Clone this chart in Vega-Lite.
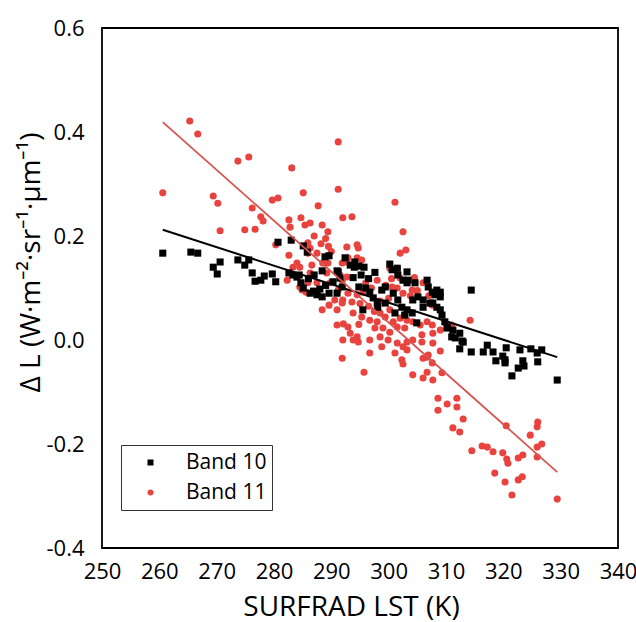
{
  "$schema": "https://vega.github.io/schema/vega-lite/v6.json",
  "autosize": "none",
  "width": 516,
  "height": 520,
  "padding": {"left": 102, "top": 28, "right": 18, "bottom": 74},
  "background": "white",
  "config": {
    "font": "Open Sans",
    "view": {"stroke": "black", "strokeWidth": 1.8},
    "axis": {"domain": false, "ticks": false, "grid": false, "labelFont": "Open Sans", "titleFont": "Open Sans", "labelColor": "black", "titleColor": "black", "labelFontSize": 22, "titleFontWeight": "normal", "labelFlush": false}
  },
  "datasets": {
    "pts": [
      {"band":"Band 11","lst":260.6,"dl":0.283},{"band":"Band 11","lst":265.3,"dl":0.421},{"band":"Band 11","lst":266.7,"dl":0.396},{"band":"Band 11","lst":269.4,"dl":0.277},{"band":"Band 11","lst":270.2,"dl":0.263},{"band":"Band 11","lst":270.6,"dl":0.210},{"band":"Band 11","lst":273.7,"dl":0.344},{"band":"Band 11","lst":275.6,"dl":0.352},{"band":"Band 11","lst":276.2,"dl":0.254},{"band":"Band 11","lst":277.7,"dl":0.237},{"band":"Band 11","lst":278.1,"dl":0.229},{"band":"Band 11","lst":274.9,"dl":0.212},{"band":"Band 11","lst":276.7,"dl":0.213},{"band":"Band 11","lst":279.7,"dl":0.269},{"band":"Band 11","lst":280.7,"dl":0.273},{"band":"Band 11","lst":280.3,"dl":0.183},{"band":"Band 11","lst":282.6,"dl":0.231},{"band":"Band 11","lst":282.8,"dl":0.217},{"band":"Band 11","lst":283.1,"dl":0.331},{"band":"Band 11","lst":285.1,"dl":0.283},{"band":"Band 11","lst":284.7,"dl":0.235},{"band":"Band 11","lst":285.4,"dl":0.221},{"band":"Band 11","lst":286.3,"dl":0.225},{"band":"Band 11","lst":287.7,"dl":0.258},{"band":"Band 11","lst":288.4,"dl":0.221},{"band":"Band 11","lst":289.4,"dl":0.208},{"band":"Band 11","lst":291.2,"dl":0.381},{"band":"Band 11","lst":291.2,"dl":0.290},{"band":"Band 11","lst":292.0,"dl":0.235},{"band":"Band 11","lst":292.7,"dl":0.179},{"band":"Band 11","lst":282.6,"dl":0.163},{"band":"Band 11","lst":283.3,"dl":0.140},{"band":"Band 11","lst":284.0,"dl":0.148},{"band":"Band 11","lst":284.5,"dl":0.140},{"band":"Band 11","lst":285.9,"dl":0.187},{"band":"Band 11","lst":286.3,"dl":0.177},{"band":"Band 11","lst":285.9,"dl":0.167},{"band":"Band 11","lst":286.6,"dl":0.144},{"band":"Band 11","lst":287.5,"dl":0.167},{"band":"Band 11","lst":288.5,"dl":0.148},{"band":"Band 11","lst":282.3,"dl":0.115},{"band":"Band 11","lst":284.9,"dl":0.096},{"band":"Band 11","lst":285.9,"dl":0.110},{"band":"Band 11","lst":288.4,"dl":0.058},{"band":"Band 11","lst":289.6,"dl":0.067},{"band":"Band 11","lst":291.0,"dl":0.058},{"band":"Band 11","lst":291.0,"dl":0.029},{"band":"Band 11","lst":292.0,"dl":0.077},{"band":"Band 11","lst":292.7,"dl":0.150},{"band":"Band 11","lst":292.0,"dl":0.000},{"band":"Band 11","lst":291.9,"dl":-0.035},{"band":"Band 11","lst":301.1,"dl":0.265},{"band":"Band 11","lst":293.6,"dl":0.237},{"band":"Band 11","lst":302.5,"dl":0.208},{"band":"Band 11","lst":294.5,"dl":0.183},{"band":"Band 11","lst":294.7,"dl":0.177},{"band":"Band 11","lst":302.0,"dl":0.167},{"band":"Band 11","lst":303.0,"dl":0.173},{"band":"Band 11","lst":289.4,"dl":0.148},{"band":"Band 11","lst":291.9,"dl":0.148},{"band":"Band 11","lst":292.9,"dl":0.158},{"band":"Band 11","lst":294.5,"dl":0.158},{"band":"Band 11","lst":295.3,"dl":0.154},{"band":"Band 11","lst":286.3,"dl":0.129},{"band":"Band 11","lst":289.2,"dl":0.129},{"band":"Band 11","lst":291.5,"dl":0.125},{"band":"Band 11","lst":291.9,"dl":0.115},{"band":"Band 11","lst":292.7,"dl":0.121},{"band":"Band 11","lst":284.5,"dl":0.102},{"band":"Band 11","lst":285.6,"dl":0.092},{"band":"Band 11","lst":287.5,"dl":0.110},{"band":"Band 11","lst":289.8,"dl":0.110},{"band":"Band 11","lst":291.2,"dl":0.096},{"band":"Band 11","lst":292.9,"dl":0.090},{"band":"Band 11","lst":294.5,"dl":0.087},{"band":"Band 11","lst":295.5,"dl":0.092},{"band":"Band 11","lst":290.6,"dl":0.077},{"band":"Band 11","lst":291.9,"dl":0.071},{"band":"Band 11","lst":293.6,"dl":0.073},{"band":"Band 11","lst":293.8,"dl":0.052},{"band":"Band 11","lst":295.3,"dl":0.044},{"band":"Band 11","lst":296.7,"dl":0.038},{"band":"Band 11","lst":298.0,"dl":0.035},{"band":"Band 11","lst":297.6,"dl":0.023},{"band":"Band 11","lst":298.5,"dl":0.052},{"band":"Band 11","lst":299.4,"dl":0.044},{"band":"Band 11","lst":300.2,"dl":0.058},{"band":"Band 11","lst":300.8,"dl":0.035},{"band":"Band 11","lst":302.0,"dl":0.042},{"band":"Band 11","lst":303.2,"dl":0.038},{"band":"Band 11","lst":304.2,"dl":0.035},{"band":"Band 11","lst":305.5,"dl":0.029},{"band":"Band 11","lst":306.7,"dl":0.035},{"band":"Band 11","lst":307.6,"dl":0.029},{"band":"Band 11","lst":309.0,"dl":0.019},{"band":"Band 11","lst":292.1,"dl":0.031},{"band":"Band 11","lst":293.3,"dl":0.013},{"band":"Band 11","lst":294.5,"dl":0.006},{"band":"Band 11","lst":293.8,"dl":0.000},{"band":"Band 11","lst":294.7,"dl":-0.004},{"band":"Band 11","lst":296.7,"dl":0.000},{"band":"Band 11","lst":298.5,"dl":0.006},{"band":"Band 11","lst":299.9,"dl":0.000},{"band":"Band 11","lst":301.5,"dl":-0.006},{"band":"Band 11","lst":303.2,"dl":-0.004},{"band":"Band 11","lst":304.2,"dl":0.000},{"band":"Band 11","lst":305.8,"dl":-0.004},{"band":"Band 11","lst":307.7,"dl":-0.006},{"band":"Band 11","lst":314.2,"dl":0.038},{"band":"Band 11","lst":311.0,"dl":0.029},{"band":"Band 11","lst":296.7,"dl":-0.025},{"band":"Band 11","lst":298.8,"dl":-0.013},{"band":"Band 11","lst":301.1,"dl":-0.025},{"band":"Band 11","lst":303.2,"dl":-0.019},{"band":"Band 11","lst":306.7,"dl":-0.033},{"band":"Band 11","lst":309.0,"dl":-0.021},{"band":"Band 11","lst":295.7,"dl":-0.062},{"band":"Band 11","lst":302.3,"dl":-0.038},{"band":"Band 11","lst":302.5,"dl":-0.046},{"band":"Band 11","lst":304.2,"dl":-0.067},{"band":"Band 11","lst":306.0,"dl":-0.073},{"band":"Band 11","lst":306.7,"dl":-0.062},{"band":"Band 11","lst":307.7,"dl":-0.077},{"band":"Band 11","lst":309.3,"dl":-0.063},{"band":"Band 11","lst":308.6,"dl":-0.112},{"band":"Band 11","lst":311.9,"dl":-0.112},{"band":"Band 11","lst":299.0,"dl":0.023},{"band":"Band 11","lst":300.2,"dl":0.015},{"band":"Band 11","lst":301.5,"dl":0.025},{"band":"Band 11","lst":302.8,"dl":0.023},{"band":"Band 11","lst":302.5,"dl":-0.013},{"band":"Band 11","lst":305.8,"dl":0.010},{"band":"Band 11","lst":307.7,"dl":0.013},{"band":"Band 11","lst":306.0,"dl":-0.035},{"band":"Band 11","lst":306.9,"dl":-0.029},{"band":"Band 11","lst":307.6,"dl":-0.044},{"band":"Band 11","lst":310.2,"dl":-0.123},{"band":"Band 11","lst":311.9,"dl":-0.129},{"band":"Band 11","lst":308.6,"dl":-0.135},{"band":"Band 11","lst":313.0,"dl":-0.152},{"band":"Band 11","lst":311.2,"dl":-0.169},{"band":"Band 11","lst":312.4,"dl":-0.177},{"band":"Band 11","lst":314.5,"dl":-0.213},{"band":"Band 11","lst":316.3,"dl":-0.204},{"band":"Band 11","lst":317.2,"dl":-0.206},{"band":"Band 11","lst":318.2,"dl":-0.215},{"band":"Band 11","lst":318.5,"dl":-0.256},{"band":"Band 11","lst":319.9,"dl":-0.217},{"band":"Band 11","lst":320.6,"dl":-0.229},{"band":"Band 11","lst":320.8,"dl":-0.237},{"band":"Band 11","lst":320.3,"dl":-0.273},{"band":"Band 11","lst":321.5,"dl":-0.298},{"band":"Band 11","lst":322.6,"dl":-0.227},{"band":"Band 11","lst":323.4,"dl":-0.221},{"band":"Band 11","lst":322.6,"dl":-0.269},{"band":"Band 11","lst":323.3,"dl":-0.263},{"band":"Band 11","lst":320.5,"dl":-0.165},{"band":"Band 11","lst":324.7,"dl":-0.183},{"band":"Band 11","lst":325.9,"dl":-0.206},{"band":"Band 11","lst":326.7,"dl":-0.200},{"band":"Band 11","lst":325.9,"dl":-0.225},{"band":"Band 11","lst":325.9,"dl":-0.167},{"band":"Band 11","lst":326.0,"dl":-0.158},{"band":"Band 11","lst":329.4,"dl":-0.306},{"band":"Band 11","lst":288.2,"dl":0.185},{"band":"Band 11","lst":289.0,"dl":0.195},{"band":"Band 11","lst":287.0,"dl":0.200},{"band":"Band 11","lst":290.0,"dl":0.170},{"band":"Band 11","lst":289.5,"dl":0.180},{"band":"Band 11","lst":296.0,"dl":0.110},{"band":"Band 11","lst":297.0,"dl":0.100},{"band":"Band 11","lst":298.0,"dl":0.115},{"band":"Band 11","lst":299.5,"dl":0.105},{"band":"Band 11","lst":300.5,"dl":0.118},{"band":"Band 11","lst":301.5,"dl":0.100},{"band":"Band 11","lst":302.5,"dl":0.090},{"band":"Band 11","lst":303.8,"dl":0.085},{"band":"Band 11","lst":305.0,"dl":0.095},{"band":"Band 11","lst":306.0,"dl":0.110},{"band":"Band 11","lst":304.5,"dl":0.120},{"band":"Band 11","lst":307.0,"dl":0.085},{"band":"Band 11","lst":300.0,"dl":0.080},{"band":"Band 11","lst":298.5,"dl":0.075},{"band":"Band 11","lst":296.5,"dl":0.065},{"band":"Band 11","lst":295.0,"dl":0.070},{"band":"Band 11","lst":297.5,"dl":0.055},{"band":"Band 11","lst":292.9,"dl":0.025},{"band":"Band 11","lst":294.8,"dl":0.030},{"band":"Band 11","lst":300.6,"dl":0.102},{"band":"Band 11","lst":302.0,"dl":0.119},{"band":"Band 11","lst":300.2,"dl":0.138},{"band":"Band 11","lst":301.5,"dl":0.138},{"band":"Band 11","lst":304.1,"dl":0.096},{"band":"Band 11","lst":307.6,"dl":0.067},
      {"band":"Band 10","lst":260.6,"dl":0.167},{"band":"Band 10","lst":265.5,"dl":0.169},{"band":"Band 10","lst":266.7,"dl":0.167},{"band":"Band 10","lst":269.4,"dl":0.140},{"band":"Band 10","lst":270.1,"dl":0.127},{"band":"Band 10","lst":270.6,"dl":0.150},{"band":"Band 10","lst":273.7,"dl":0.154},{"band":"Band 10","lst":274.9,"dl":0.144},{"band":"Band 10","lst":275.6,"dl":0.154},{"band":"Band 10","lst":276.2,"dl":0.129},{"band":"Band 10","lst":276.7,"dl":0.113},{"band":"Band 10","lst":277.7,"dl":0.115},{"band":"Band 10","lst":278.3,"dl":0.123},{"band":"Band 10","lst":279.7,"dl":0.127},{"band":"Band 10","lst":280.3,"dl":0.112},{"band":"Band 10","lst":280.7,"dl":0.188},{"band":"Band 10","lst":283.0,"dl":0.192},{"band":"Band 10","lst":282.6,"dl":0.129},{"band":"Band 10","lst":283.3,"dl":0.125},{"band":"Band 10","lst":284.4,"dl":0.125},{"band":"Band 10","lst":285.1,"dl":0.181},{"band":"Band 10","lst":285.8,"dl":0.169},{"band":"Band 10","lst":286.3,"dl":0.090},{"band":"Band 10","lst":287.5,"dl":0.087},{"band":"Band 10","lst":288.4,"dl":0.083},{"band":"Band 10","lst":288.4,"dl":0.133},{"band":"Band 10","lst":289.6,"dl":0.162},{"band":"Band 10","lst":289.6,"dl":0.090},{"band":"Band 10","lst":291.0,"dl":0.090},{"band":"Band 10","lst":291.2,"dl":0.131},{"band":"Band 10","lst":291.5,"dl":0.119},{"band":"Band 10","lst":284.7,"dl":0.110},{"band":"Band 10","lst":284.0,"dl":0.121},{"band":"Band 10","lst":285.1,"dl":0.100},{"band":"Band 10","lst":291.9,"dl":0.102},{"band":"Band 10","lst":292.4,"dl":0.158},{"band":"Band 10","lst":293.3,"dl":0.144},{"band":"Band 10","lst":294.1,"dl":0.150},{"band":"Band 10","lst":294.8,"dl":0.142},{"band":"Band 10","lst":295.7,"dl":0.140},{"band":"Band 10","lst":294.8,"dl":0.102},{"band":"Band 10","lst":296.0,"dl":0.100},{"band":"Band 10","lst":296.7,"dl":0.092},{"band":"Band 10","lst":297.3,"dl":0.081},{"band":"Band 10","lst":298.0,"dl":0.071},{"band":"Band 10","lst":295.5,"dl":0.058},{"band":"Band 10","lst":298.1,"dl":0.063},{"band":"Band 10","lst":298.8,"dl":0.096},{"band":"Band 10","lst":299.4,"dl":0.102},{"band":"Band 10","lst":300.2,"dl":0.146},{"band":"Band 10","lst":300.6,"dl":0.135},{"band":"Band 10","lst":301.5,"dl":0.138},{"band":"Band 10","lst":301.6,"dl":0.125},{"band":"Band 10","lst":303.2,"dl":0.131},{"band":"Band 10","lst":302.5,"dl":0.115},{"band":"Band 10","lst":303.2,"dl":0.110},{"band":"Band 10","lst":300.8,"dl":0.090},{"band":"Band 10","lst":301.6,"dl":0.077},{"band":"Band 10","lst":302.3,"dl":0.063},{"band":"Band 10","lst":303.2,"dl":0.058},{"band":"Band 10","lst":304.1,"dl":0.052},{"band":"Band 10","lst":304.9,"dl":0.033},{"band":"Band 10","lst":304.2,"dl":0.077},{"band":"Band 10","lst":305.1,"dl":0.083},{"band":"Band 10","lst":306.0,"dl":0.077},{"band":"Band 10","lst":306.7,"dl":0.115},{"band":"Band 10","lst":306.9,"dl":0.102},{"band":"Band 10","lst":307.6,"dl":0.092},{"band":"Band 10","lst":308.1,"dl":0.087},{"band":"Band 10","lst":307.7,"dl":0.071},{"band":"Band 10","lst":308.4,"dl":0.063},{"band":"Band 10","lst":309.0,"dl":0.092},{"band":"Band 10","lst":309.0,"dl":0.083},{"band":"Band 10","lst":309.0,"dl":0.058},{"band":"Band 10","lst":309.3,"dl":0.048},{"band":"Band 10","lst":309.8,"dl":0.035},{"band":"Band 10","lst":310.2,"dl":0.023},{"band":"Band 10","lst":311.2,"dl":0.019},{"band":"Band 10","lst":311.0,"dl":0.006},{"band":"Band 10","lst":311.6,"dl":0.004},{"band":"Band 10","lst":312.4,"dl":0.013},{"band":"Band 10","lst":312.8,"dl":-0.002},{"band":"Band 10","lst":312.4,"dl":-0.017},{"band":"Band 10","lst":314.4,"dl":-0.023},{"band":"Band 10","lst":316.5,"dl":-0.023},{"band":"Band 10","lst":317.2,"dl":-0.010},{"band":"Band 10","lst":314.4,"dl":0.096},{"band":"Band 10","lst":299.4,"dl":0.071},{"band":"Band 10","lst":301.1,"dl":0.052},{"band":"Band 10","lst":302.8,"dl":0.048},{"band":"Band 10","lst":306.0,"dl":0.063},{"band":"Band 10","lst":307.2,"dl":0.071},{"band":"Band 10","lst":310.2,"dl":0.025},{"band":"Band 10","lst":313.0,"dl":-0.004},{"band":"Band 10","lst":318.2,"dl":-0.023},{"band":"Band 10","lst":318.7,"dl":-0.040},{"band":"Band 10","lst":319.9,"dl":-0.031},{"band":"Band 10","lst":320.3,"dl":-0.038},{"band":"Band 10","lst":320.5,"dl":-0.015},{"band":"Band 10","lst":320.3,"dl":-0.044},{"band":"Band 10","lst":321.5,"dl":-0.069},{"band":"Band 10","lst":322.6,"dl":-0.054},{"band":"Band 10","lst":322.9,"dl":-0.019},{"band":"Band 10","lst":323.4,"dl":-0.040},{"band":"Band 10","lst":323.6,"dl":-0.050},{"band":"Band 10","lst":324.8,"dl":-0.017},{"band":"Band 10","lst":325.9,"dl":-0.025},{"band":"Band 10","lst":326.0,"dl":-0.042},{"band":"Band 10","lst":326.7,"dl":-0.019},{"band":"Band 10","lst":329.4,"dl":-0.077},{"band":"Band 10","lst":303.4,"dl":0.115},{"band":"Band 10","lst":304.6,"dl":0.110},{"band":"Band 10","lst":286.9,"dl":0.094},{"band":"Band 10","lst":288.0,"dl":0.098},{"band":"Band 10","lst":289.0,"dl":0.105},{"band":"Band 10","lst":290.3,"dl":0.112},{"band":"Band 10","lst":286.0,"dl":0.118},{"band":"Band 10","lst":287.0,"dl":0.125},{"band":"Band 10","lst":293.8,"dl":0.120},{"band":"Band 10","lst":295.2,"dl":0.125},{"band":"Band 10","lst":296.5,"dl":0.118},{"band":"Band 10","lst":297.6,"dl":0.130},{"band":"Band 10","lst":288.9,"dl":0.160},{"band":"Band 10","lst":291.0,"dl":0.133},{"band":"Band 10","lst":294.0,"dl":0.140},{"band":"Band 10","lst":308.4,"dl":0.096}
    ],
    "fit": [
      {"band":"Band 10","lst":260.6,"dl":0.212},{"band":"Band 10","lst":329.4,"dl":-0.033},
      {"band":"Band 11","lst":260.6,"dl":0.419},{"band":"Band 11","lst":329.4,"dl":-0.254}
    ],
    "xmaj": [{"v":260},{"v":270},{"v":280},{"v":290},{"v":300},{"v":310},{"v":320},{"v":330}],
    "xmin": [{"v":255},{"v":265},{"v":275},{"v":285},{"v":295},{"v":305},{"v":315},{"v":325},{"v":335}],
    "ymaj": [{"v":-0.2},{"v":0},{"v":0.2},{"v":0.4}],
    "ymin": [{"v":-0.3},{"v":-0.1},{"v":0.1},{"v":0.3},{"v":0.5}]
  },
  "encoding": {
    "x": {"field": "lst", "type": "quantitative", "scale": {"domain": [250, 340], "nice": false, "zero": false},
      "axis": {"title": "SURFRAD LST (K)", "values": [250,260,270,280,290,300,310,320,330,340],
        "labelPadding": 13, "titleFontSize": 28, "titleX": 249, "titleY": 67, "titleBaseline": "alphabetic"}},
    "y": {"field": "dl", "type": "quantitative", "scale": {"domain": [-0.4, 0.6], "nice": false, "zero": false},
      "axis": {"title": "Δ L (W·m⁻²·sr⁻¹·μm⁻¹)", "values": [-0.4,-0.2,0,0.2,0.4,0.6],
        "labelExpr": "replace(format(datum.value, '.1f'), '\u2212', '-')",
        "labelPadding": 18, "titleFontSize": 28, "titleX": -57, "titleY": 234, "titleBaseline": "bottom", "titleAngle": -90}}
  },
  "layer": [
    {
      "data": {"name": "pts"},
      "mark": {"type": "point", "filled": true, "opacity": 1, "size": 50, "strokeWidth": 0},
      "encoding": {
        "color": {"field": "band", "type": "nominal", "scale": {"domain": ["Band 10", "Band 11"], "range": ["#000000", "#e8433f"]},
          "legend": {"title": null, "orient": "none", "legendX": 19, "legendY": 417, "strokeColor": "#333333", "padding": 5, "clipHeight": 25, "rowPadding": 5, "symbolOffset": 14, "labelOffset": 25, "labelFontSize": 21, "labelFont": "Open Sans", "labelColor": "black", "symbolSize": 36, "fillColor": "white"}},
        "shape": {"field": "band", "type": "nominal", "scale": {"domain": ["Band 10", "Band 11"], "range": ["square", "circle"]}},
        "order": {"field": "band", "sort": "descending"}
      }
    },
    {
      "mark": {"type": "rule", "color": "black", "strokeWidth": 1.5},
      "encoding": {"y": {"datum": 0}, "x": null}
    },
    {
      "data": {"name": "xmaj"},
      "mark": {"type": "tick", "orient": "vertical", "size": 8, "thickness": 1.6, "color": "black", "opacity": 1, "yOffset": -4},
      "encoding": {"x": {"field": "v", "type": "quantitative"}, "y": {"datum": -0.4}}
    },
    {
      "data": {"name": "xmin"},
      "mark": {"type": "tick", "orient": "vertical", "size": 5, "thickness": 1.6, "color": "black", "opacity": 1, "yOffset": -2.5},
      "encoding": {"x": {"field": "v", "type": "quantitative"}, "y": {"datum": -0.4}}
    },
    {
      "data": {"name": "ymaj"},
      "mark": {"type": "tick", "orient": "horizontal", "size": 8, "thickness": 1.6, "color": "black", "opacity": 1, "xOffset": 4},
      "encoding": {"y": {"field": "v", "type": "quantitative"}, "x": {"datum": 250}}
    },
    {
      "data": {"name": "ymin"},
      "mark": {"type": "tick", "orient": "horizontal", "size": 5, "thickness": 1.6, "color": "black", "opacity": 1, "xOffset": 2.5},
      "encoding": {"y": {"field": "v", "type": "quantitative"}, "x": {"datum": 250}}
    },
    {
      "data": {"name": "fit"},
      "transform": [{"filter": "datum.band === 'Band 10'"}],
      "mark": {"type": "line", "color": "black", "strokeWidth": 2}
    },
    {
      "data": {"name": "fit"},
      "transform": [{"filter": "datum.band === 'Band 11'"}],
      "mark": {"type": "line", "color": "#d9534f", "strokeWidth": 1.8}
    }
  ]
}
